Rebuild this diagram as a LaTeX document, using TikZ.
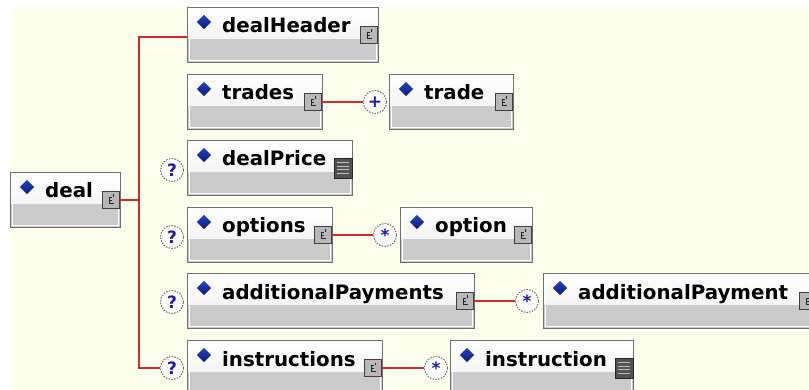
\documentclass[tikz,border=0pt]{standalone}
\usepackage{fontspec}
\setmainfont{DejaVu Sans}
\usetikzlibrary{shapes.geometric,calc}
\definecolor{cream}{HTML}{FFFFEE}
\definecolor{boxline}{HTML}{707070}
\definecolor{boxgrey}{HTML}{CBCBCB}
\definecolor{boxtop}{HTML}{EDEDED}
\definecolor{conncol}{HTML}{D42C2C}
\definecolor{diablue}{HTML}{0A28B0}
\definecolor{qblue}{HTML}{1C1CA8}
\tikzset{
  elembox/.style={rectangle, draw=boxline, line width=1.3pt, inner sep=0pt,
    minimum height=55pt, anchor=north west,
    path picture={
      \fill[top color=white, bottom color=boxtop]
        (path picture bounding box.north west) rectangle
        ([yshift=-31pt]path picture bounding box.north east);
      \fill[boxgrey]
        ([yshift=-31pt]path picture bounding box.north west) rectangle
        (path picture bounding box.south east);
      \draw[white, line width=1pt]
        ([shift={(1.8pt,-1.8pt)}]path picture bounding box.north west) rectangle
        ([shift={(-1.8pt,1.8pt)}]path picture bounding box.south east);
    }},
  diam/.style={diamond, inner sep=0pt, minimum width=14.5pt, minimum height=14.5pt,
    top color=diablue!88!white, bottom color=diablue!70!black, draw=none},
  lbl/.style={inner sep=0pt, font=\bfseries\fontsize{19.8}{20}\selectfont, text=black},
  cicon/.style={rectangle, draw=black!75, fill=black!28, line width=0.9pt,
    minimum size=17pt, inner sep=0pt,
    path picture={
      \draw[black!85, line width=0.8pt]
        ([shift={(2.5pt,-3.5pt)}]path picture bounding box.center) --
        ([shift={(-2pt,-3.5pt)}]path picture bounding box.center) --
        ([shift={(-2pt,3pt)}]path picture bounding box.center) --
        ([shift={(1pt,3pt)}]path picture bounding box.center);
      \draw[black!85, line width=0.7pt]
        ([shift={(-2pt,0pt)}]path picture bounding box.center) --
        ([shift={(1pt,0pt)}]path picture bounding box.center);
      \draw[black!85, line width=0.6pt]
        ([shift={(1.5pt,3pt)}]path picture bounding box.center) --
        ([shift={(1.5pt,5.5pt)}]path picture bounding box.center);
    }},
  sicon/.style={rectangle, draw=black!85, fill=black!68, line width=0.8pt,
    minimum width=18pt, minimum height=20pt, inner sep=0pt,
    path picture={
      \foreach \k in {-5.5,-1.8,1.8,5.5}
        \draw[white!75!black, line width=1.2pt]
          ([shift={(-6pt,\k pt)}]path picture bounding box.center) --
          ([shift={(6pt,\k pt)}]path picture bounding box.center);
    }},
  mult/.style={circle, draw=black!55, dash pattern=on 1.6pt off 1.2pt,
    line width=1pt, fill=white, minimum size=23pt, inner sep=0pt,
    text=qblue, font=\bfseries\fontsize{17}{17}\selectfont},
  conn/.style={draw=conncol, line width=1.6pt},
}
\newcommand\xelem[6]{%
  \node[elembox, minimum width=#4pt] (#1) at (#2,#3) {};
  \node[diam] (#1-d) at ($(#1.north west)+(17,15)$) {};
  \node[lbl, anchor=base west] (#1-t) at ($(#1.north west)+(35,26)$) {#5};
  \node[#6icon] (#1-ic) at ($(#1.north east)+(-10,28)$) {};
}
\begin{document}
\begin{tikzpicture}[x=1pt, y=-1pt]
\useasboundingbox (0,0) rectangle (809,390);
\clip (0,0) rectangle (809,390);
\fill[white] (0,0) rectangle (809,390);
\fill[cream] (10,7) rectangle (809,390);

\xelem{deal}{10}{172}{110}{deal}{c}
\xelem{dealHeader}{187}{7}{191}{dealHeader}{c}
\xelem{trades}{187}{74}{135}{trades}{c}
\xelem{trade}{389}{74}{124}{trade}{c}
\xelem{dealPrice}{187}{140}{165}{dealPrice}{s}
\xelem{options}{187}{207}{145}{options}{c}
\xelem{option}{400}{207}{132}{option}{c}
\xelem{additionalPayments}{187}{273}{287}{additionalPayments}{c}
\xelem{additionalPayment}{543}{273}{274}{additionalPayment}{c}
\xelem{instructions}{187}{340}{195}{instructions}{c}
\xelem{instruction}{450}{340}{183}{instruction}{s}

\node[mult] (dealPrice-q) at ($(dealPrice.north west)+(-15,30)$) {?};
\node[mult] (options-q) at ($(options.north west)+(-15,30)$) {?};
\node[mult] (additionalPayments-q) at ($(additionalPayments.north west)+(-15,29)$) {?};
\node[mult] (instructions-q) at ($(instructions.north west)+(-15,28)$) {?};

\node[mult] (trade-m) at ($(trade.north west)+(-14,28)$) {+};
\node[mult] (option-m) at ($(option.north west)+(-15,28)$) {*};
\node[mult] (additionalPayment-m) at ($(additionalPayment.north west)+(-16,28)$) {*};
\node[mult] (instruction-m) at ($(instruction.north west)+(-14,28)$) {*};

\coordinate (trunkTop) at ($(dealHeader.north west)+(-48,30)$);
\coordinate (trunkBot) at (trunkTop |- instructions-q.west);
\draw[conn] (dealHeader.north west |- trunkTop) -- (trunkTop) -- (trunkBot) -- (instructions-q.west);
\draw[conn] (deal-ic.east) -- (deal-ic.east -| trunkTop);
\draw[conn] (trades-ic.east) -- (trade-m.west);
\draw[conn] (options-ic.east) -- (option-m.west);
\draw[conn] (additionalPayments-ic.east) -- (additionalPayment-m.west);
\draw[conn] (instructions-ic.east) -- (instruction-m.west);
\end{tikzpicture}
\end{document}
